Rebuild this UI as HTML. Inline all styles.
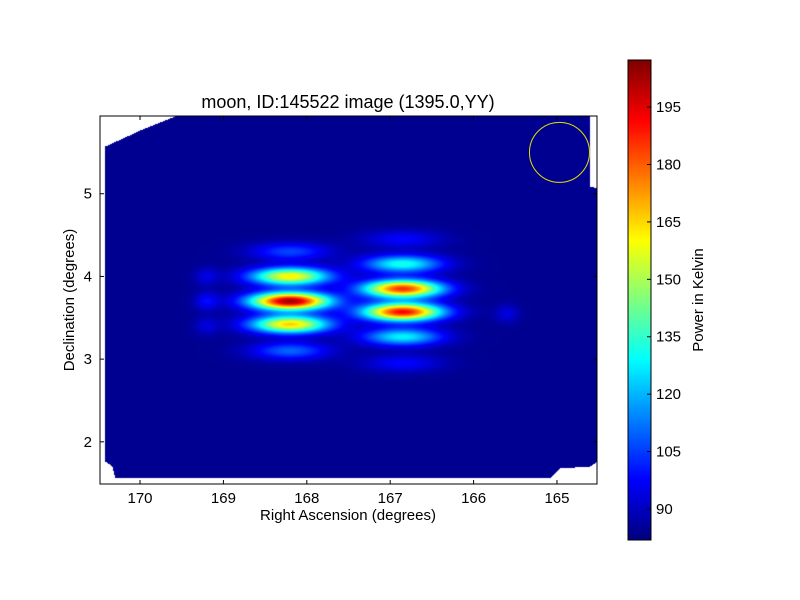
<!DOCTYPE html>
<html><head><meta charset="utf-8"><style>
html,body{margin:0;padding:0;background:#fff;}
#wrap{position:relative;width:800px;height:600px;font-family:"Liberation Sans",sans-serif;}
canvas{position:absolute;}
</style></head><body>
<div id="wrap">
<canvas id="map" width="497" height="368" style="left:100px;top:116px"></canvas>
<canvas id="cbar" width="23" height="480" style="left:628px;top:60px"></canvas>
<svg id="svg" width="800" height="600" style="position:absolute;left:0;top:0"></svg>
</div>
<script>
// Data
const blobRA  = [168.2,168.2,168.2,168.2,168.2, 166.85,166.85,166.85,166.85,166.85,166.85, 169.2,169.2,169.2, 165.6];
const blobDec = [4.30, 4.00, 3.70, 3.42, 3.10,  4.45, 4.15, 3.85, 3.57, 3.27, 2.95,  4.00, 3.70, 3.40, 3.55];
const blobVal = [22, 78, 120, 82, 26,  14, 48, 102, 108, 44, 14,  10, 14, 9, 10];
const blobWid = [0.33,0.33,0.33,0.33,0.33, 0.33,0.33,0.33,0.33,0.33,0.33, 0.1,0.1,0.1, 0.1];
const baseVal = 84;
const xTicks = [170,169,168,167,166,165];
const yTicks = [2,3,4,5];
const cTicks = [90,105,120,135,150,165,180,195];
const ringRA = 164.97, ringDec = 5.5, ringR = 0.36;

const X0=100,X1=597,Y0=116,Y1=484;
const raMin=170.48, raMax=164.52, decMin=1.49, decMax=5.94;
const xs=v=>X0+(v-raMin)/(raMax-raMin)*(X1-X0);
const ys=v=>Y1-(v-decMin)/(decMax-decMin)*(Y1-Y0);
const cMin=81.9,cMax=207.3,CB0=60,CB1=540;
const cs=v=>CB1-(v-cMin)/(cMax-cMin)*(CB1-CB0);

function jet(t){t=Math.max(0,Math.min(1,t));
 const f=(a)=>Math.max(0,Math.min(1,1.5-Math.abs(4*t-a)));
 return [f(3)*255|0,f(2)*255|0,f(1)*255|0];}

const mc=document.getElementById('map').getContext('2d');
const img=mc.createImageData(497,368);
const poly=[[5,30],[40,14],[75,0],[490,0],[490,70],[497,72],[497,345],[490,350],[460,352],[450,362],[15,362],[12,350],[5,345]];
function inside(x,y){let c=false;for(let i=0,j=poly.length-1;i<poly.length;j=i++){const[xi,yi]=poly[i],[xj,yj]=poly[j];if((yi>y)!=(yj>y)&&x<(xj-xi)*(y-yi)/(yj-yi)+xi)c=!c;}return c;}
for(let py=0;py<368;py++)for(let px=0;px<497;px++){
 const k=(py*497+px)*4;
 if(!inside(px,py)){img.data[k]=img.data[k+1]=img.data[k+2]=255;img.data[k+3]=255;continue;}
 const ra=raMin+(px+0.5)/497*(raMax-raMin), dec=decMax-(py+0.5)/368*(decMax-decMin);
 let v=baseVal;
 for(let i=0;i<blobRA.length;i++){const dx=(ra-blobRA[i])/blobWid[i],dy=(dec-blobDec[i])/0.075;v+=blobVal[i]*Math.exp(-0.5*(dx*dx+dy*dy));}
 const c=jet((v-cMin)/(cMax-cMin));img.data[k]=c[0];img.data[k+1]=c[1];img.data[k+2]=c[2];img.data[k+3]=255;}
mc.putImageData(img,0,0);

const cc=document.getElementById('cbar').getContext('2d');
for(let y=0;y<480;y++){const c=jet(1-y/479);cc.fillStyle=`rgb(${c})`;cc.fillRect(0,y,23,1);}

const svg=document.getElementById('svg');const NS='http://www.w3.org/2000/svg';
function el(t,a,txt){const e=document.createElementNS(NS,t);for(const k in a)e.setAttribute(k,a[k]);if(txt!=null)e.textContent=txt;svg.appendChild(e);return e;}
let e;
e=el('rect',{x:X0,y:Y0,width:X1-X0,height:Y1-Y0,fill:'none',stroke:'#000'});


e=el('circle',{cx:xs(ringRA),cy:ys(ringDec),r:Math.abs(xs(ringRA)-xs(ringRA+ringR)),fill:'none',stroke:'#e0e000','stroke-width':1});


xTicks.forEach(t=>{const x=xs(t);
 el('line',{x1:x,x2:x,y1:Y1,y2:Y1-4,stroke:'#000'});el('line',{x1:x,x2:x,y1:Y0,y2:Y0+4,stroke:'#000'});
 e=el('text',{x:x,y:Y1+19,'font-size':15,'text-anchor':'middle'},t);
 
 });
yTicks.forEach(t=>{const y=ys(t);
 el('line',{x1:X0,x2:X0+4,y1:y,y2:y,stroke:'#000'});el('line',{x1:X1,x2:X1-4,y1:y,y2:y,stroke:'#000'});
 e=el('text',{x:X0-8,y:y+5,'font-size':15,'text-anchor':'end'},t);
 
 });
e=el('rect',{x:628,y:CB0,width:23,height:CB1-CB0,fill:'none',stroke:'#000'});


cTicks.forEach(t=>{const y=cs(t);
 el('line',{x1:651,x2:647,y1:y,y2:y,stroke:'#000'});
 e=el('text',{x:656,y:y+5,'font-size':15},t);
 
 });
e=el('text',{x:348,y:108,'font-size':18,'text-anchor':'middle'},'moon, ID:145522 image (1395.0,YY)');


e=el('text',{x:348,y:520,'font-size':15,'text-anchor':'middle'},'Right Ascension (degrees)');


e=el('text',{x:74,y:300,'font-size':15,'text-anchor':'middle',transform:'rotate(-90 74 300)'},'Declination (degrees)');


e=el('text',{x:703,y:300,'font-size':15,'text-anchor':'middle',transform:'rotate(-90 703 300)'},'Power in Kelvin');


</script>
</body></html>
